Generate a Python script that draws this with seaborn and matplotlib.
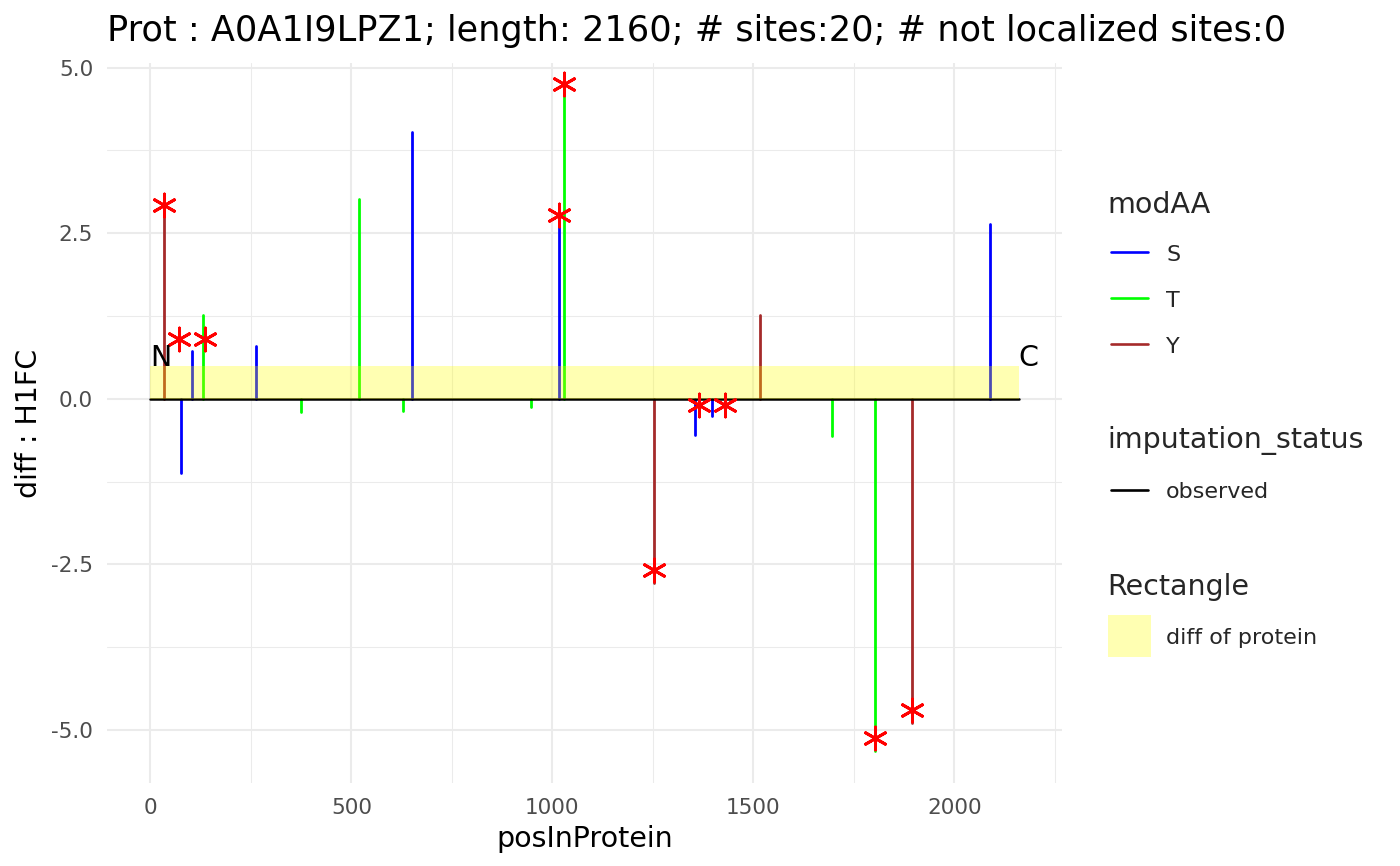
import numpy as np
import pandas as pd
import matplotlib
matplotlib.use("Agg")
import matplotlib.pyplot as plt
import seaborn as sns
from matplotlib.lines import Line2D
from matplotlib.patches import Rectangle
from matplotlib.ticker import FixedLocator, FuncFormatter

# ---------------- data ----------------
protein_length = 2160
protein_diff = 0.5
site_pos = [35, 76, 104, 131, 263, 375, 518, 628, 652, 946,
            1016, 1028, 1254, 1354, 1397, 1516, 1695, 1802, 1896, 2090]
site_diff = [2.75, -1.12, 0.72, 1.26, 0.80, -0.20, 3.02, -0.18, 4.03, -0.12,
             2.61, 4.57, -2.78, -0.55, -0.26, 1.26, -0.56, -5.31, -4.89, 2.64]
site_aa = ['Y', 'S', 'S', 'T', 'S', 'T', 'T', 'T', 'S', 'T',
           'S', 'T', 'Y', 'S', 'S', 'Y', 'T', 'T', 'Y', 'S']
star_pos = [35, 70, 137, 1016, 1028, 1254, 1364, 1430, 1802, 1896]
star_val = [2.93, 0.91, 0.91, 2.78, 4.76, -2.59, -0.095, -0.095, -5.12, -4.70]
aa_levels = ['S', 'T', 'Y']
aa_colors = {'S': '#0000FF', 'T': '#00FF00', 'Y': '#A52A2A'}
x_ticks = [0, 500, 1000, 1500, 2000]
y_ticks = [-5.0, -2.5, 0.0, 2.5, 5.0]
title = "Prot : A0A1I9LPZ1; length: 2160; # sites:20; # not localized sites:0"

# ---------------- style ----------------
sns.set_theme(style="whitegrid")
plt.rcParams['font.family'] = ['DejaVu Sans']
plt.rcParams['axes.unicode_minus'] = False

W, H = 1400, 866
fig = plt.figure(figsize=(W / 100, H / 100), dpi=100)
L, R, T, B = 107, 1062, 63, 783
ax = fig.add_axes([L / W, 1 - B / H, (R - L) / W, (B - T) / H])
ax.set_facecolor('white')
for s in ax.spines.values():
    s.set_visible(False)

# segments via seaborn lineplot (one unit per site)
rows = []
for i, (p, d, a) in enumerate(zip(site_pos, site_diff, site_aa)):
    rows.append({'site': i, 'posInProtein': p, 'diff': 0.0, 'modAA': a})
    rows.append({'site': i, 'posInProtein': p, 'diff': d, 'modAA': a})
seg = pd.DataFrame(rows)
sns.lineplot(data=seg, x='posInProtein', y='diff', hue='modAA', hue_order=aa_levels,
             palette=aa_colors, units='site', estimator=None, sort=False,
             linewidth=2.0, legend=False, ax=ax, zorder=2)

# baseline and protein rectangle
ax.plot([0, protein_length], [0, 0], color='black', lw=1.8, zorder=2.4)
ax.add_patch(Rectangle((0, 0), protein_length, protein_diff, facecolor='yellow',
                       alpha=0.3, edgecolor='none', zorder=2.5))

# asterisks
sns.scatterplot(x=star_pos, y=star_val, marker=(6, 2, 0), s=16.5 ** 2,
                color='red', edgecolor='red', linewidth=2.1, ax=ax, zorder=4, legend=False)

# N / C labels
ax.text(0, protein_diff, 'N', ha='left', va='baseline', fontsize=20.5, color='black', zorder=5)
ax.text(protein_length, protein_diff, 'C', ha='left', va='baseline', fontsize=20.5, color='black', zorder=5)

# axes
ax.set_xlim(-108, 2268)
ax.set_ylim(-5.80, 5.07)
ax.xaxis.set_major_locator(FixedLocator(x_ticks))
ax.yaxis.set_major_locator(FixedLocator(y_ticks))
ax.xaxis.set_minor_locator(FixedLocator([250, 750, 1250, 1750, 2250]))
ax.yaxis.set_minor_locator(FixedLocator([-3.75, -1.25, 1.25, 3.75]))
ax.yaxis.set_major_formatter(FuncFormatter(lambda v, _: f"{v:.1f}"))
ax.xaxis.set_major_formatter(FuncFormatter(lambda v, _: f"{int(v)}"))
ax.grid(which='major', color='#EBEBEB', lw=1.5)
ax.grid(which='minor', color='#EBEBEB', lw=0.75)
ax.set_axisbelow(True)
ax.tick_params(which='both', length=0, labelsize=15.5, colors='#4D4D4D')
ax.tick_params(axis='y', pad=10)
ax.tick_params(axis='x', pad=10.5)

ax.set_xlabel('posInProtein', fontsize=20.5, color='black')
ax.set_ylabel('diff : H1FC', fontsize=20.5, color='black')
ax.xaxis.set_label_coords(0.5, (B - 846.7) / (B - T))
ax.xaxis.label.set_verticalalignment('baseline')
ax.yaxis.set_label_coords((37 - L) / (R - L), 0.5)
ax.yaxis.label.set_verticalalignment('baseline')
ax.set_title(title, loc='left', pad=16, fontsize=25.3, color='black')

# ---------------- legend (drawn manually) ----------------
def fx(x):
    return x / W

def fy(y):
    return 1 - y / H

leg_title_fs = 20.5
leg_lab_fs = 16
fig.text(fx(1107), fy(212.7), 'modAA', fontsize=leg_title_fs, va='baseline', ha='left')
for lab, yk in zip(aa_levels, [251.7, 297.7, 343.7]):
    fig.add_artist(Line2D([fx(1110.7), fx(1148)], [fy(yk), fy(yk)], color=aa_colors[lab], lw=1.9,
                          transform=fig.transFigure))
    fig.text(fx(1166), fy(yk + 9.5), lab, fontsize=leg_lab_fs, va='baseline', ha='left')

fig.text(fx(1107), fy(448.3), 'imputation_status', fontsize=leg_title_fs, va='baseline', ha='left')
fig.add_artist(Line2D([fx(1110.7), fx(1148)], [fy(490), fy(490)], color='black', lw=1.9,
                      transform=fig.transFigure))
fig.text(fx(1166), fy(498.3), 'observed', fontsize=leg_lab_fs, va='baseline', ha='left')

fig.text(fx(1107), fy(595), 'Rectangle', fontsize=leg_title_fs, va='baseline', ha='left')
fig.add_artist(Rectangle((fx(1108), fy(657)), fx(1151) - fx(1108), fy(615) - fy(657),
                         facecolor='yellow', alpha=0.3, edgecolor='none', transform=fig.transFigure))
fig.text(fx(1166), fy(644), 'diff of protein', fontsize=leg_lab_fs, va='baseline', ha='left')

fig.savefig('out.png', dpi=100, facecolor='white')
